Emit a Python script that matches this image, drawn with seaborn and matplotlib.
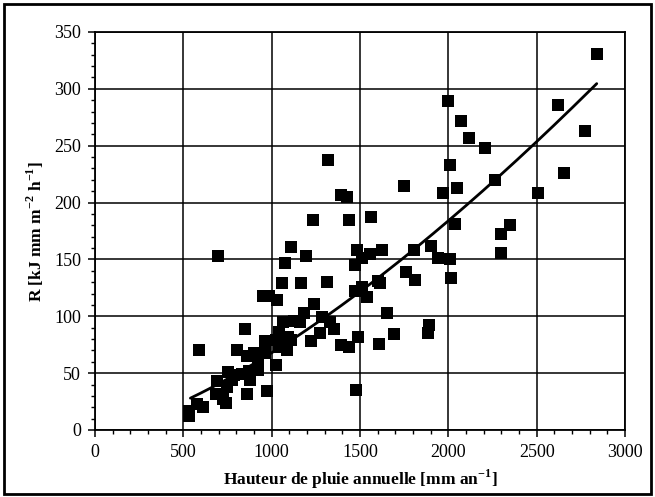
import numpy as np
import pandas as pd
import matplotlib
matplotlib.use("Agg")
import matplotlib.pyplot as plt
from matplotlib.patches import Rectangle
from matplotlib.ticker import MultipleLocator
import seaborn as sns

# Annual rainfall (mm/yr) and rainfall erosivity R for each station
rain = [2841, 1998, 2069, 2118, 2210, 2622, 2773, 2655, 2012, 2265,
        2047, 1967, 2506, 1747, 1319, 1390, 1428, 1232, 1437, 1560,
        2040, 2350, 2300, 2300, 1904, 1939, 2012, 2017, 1806, 1759,
        1813, 1626, 1485, 1511, 1473, 1556, 1600, 1612, 1473, 1513,
        1539, 1655, 1111, 1076, 1194, 695, 1060, 1168, 1314, 953,
        983, 1031, 1239, 1182, 1284, 1331, 1355, 1274, 1220, 1390,
        1437, 1487, 1610, 1690, 1889, 1886, 1478, 1066, 1092, 1109,
        1163, 1128, 1040, 1026, 1085, 1024, 1040, 962, 960, 925,
        902, 925, 849, 804, 858, 870, 832, 875, 858, 754,
        773, 693, 683, 723, 740, 749, 589, 610, 577, 530,
        534, 976, 787]
erosivity = [331, 289, 272, 257, 248, 286, 263, 226, 233, 220,
             213, 208, 208, 215, 237, 207, 205, 185, 185, 187,
             181, 180, 172, 156, 162, 151, 150, 134, 158, 139,
             132, 158, 158, 151, 145, 155, 131, 129, 122, 126,
             117, 103, 161, 147, 153, 153, 129, 129, 130, 118,
             118, 114, 111, 103, 99, 95, 89, 85, 78, 75,
             73, 82, 76, 84, 92, 85, 35, 95, 82, 79,
             95, 96, 86, 79, 70, 57, 73, 78, 68, 63,
             68, 53, 89, 70, 65, 52, 49, 44, 32, 51,
             44, 43, 32, 27, 24, 38, 70, 20, 23, 17,
             12, 34, 48]

# Power-law regression R = a * P^b
fit_a = 0.003295
fit_b = 1.438
fit_range = [540, 2840]

x_ticks = [0, 500, 1000, 1500, 2000, 2500, 3000]
y_ticks = [0, 50, 100, 150, 200, 250, 300, 350]

sns.set_theme(style="white")
plt.rcParams["font.family"] = ["Liberation Serif", "DejaVu Serif"]
plt.rcParams["mathtext.fontset"] = "custom"
plt.rcParams["mathtext.rm"] = "Liberation Serif:bold"
plt.rcParams["mathtext.bf"] = "Liberation Serif:bold"

df = pd.DataFrame({"P": rain, "R": erosivity})
p_line = np.linspace(fit_range[0], fit_range[1], 200)
df_fit = pd.DataFrame({"P": p_line, "R": fit_a * p_line ** fit_b})

fig = plt.figure(figsize=(6.55, 4.97), dpi=100)
ax = fig.add_axes([95 / 655, 1 - 430 / 497, 530 / 655, 398 / 497])

ax.set_axisbelow(True)
ax.grid(True, color="black", linewidth=1.1)
sns.scatterplot(data=df, x="P", y="R", marker="s", s=70, color="black",
                edgecolor="black", linewidth=0, ax=ax, zorder=3)
sns.lineplot(data=df_fit, x="P", y="R", color="black", linewidth=2.0,
             ax=ax, zorder=4)

ax.set_xlim(0, 3000)
ax.set_ylim(0, 350)
ax.set_xticks(x_ticks)
ax.set_yticks(y_ticks)
ax.xaxis.set_minor_locator(MultipleLocator(100))
ax.yaxis.set_minor_locator(MultipleLocator(10))
ax.tick_params(axis="both", which="major", direction="out", length=5,
               width=1.1, color="black", labelsize=13, labelcolor="black",
               bottom=True, left=True, pad=5)
ax.tick_params(axis="both", which="minor", direction="out", length=3,
               width=1.0, color="black", bottom=True, left=True)
for s in ax.spines.values():
    s.set_color("black")
    s.set_linewidth(1.3)

ax.set_xlabel("Hauteur de pluie annuelle [mm an$^{-1}$]", fontsize=12.5,
              fontweight="bold", color="black", labelpad=5)
ax.set_ylabel("R [kJ mm m$^{-2}$ h$^{-1}$]", fontsize=12.5,
              fontweight="bold", color="black", labelpad=6)

fig.patches.append(Rectangle((4 / 655, 3 / 497), 647 / 655, 490 / 497,
                             transform=fig.transFigure, fill=False,
                             edgecolor="black", linewidth=2.0))

fig.savefig("out.png", dpi=100, facecolor="white")
